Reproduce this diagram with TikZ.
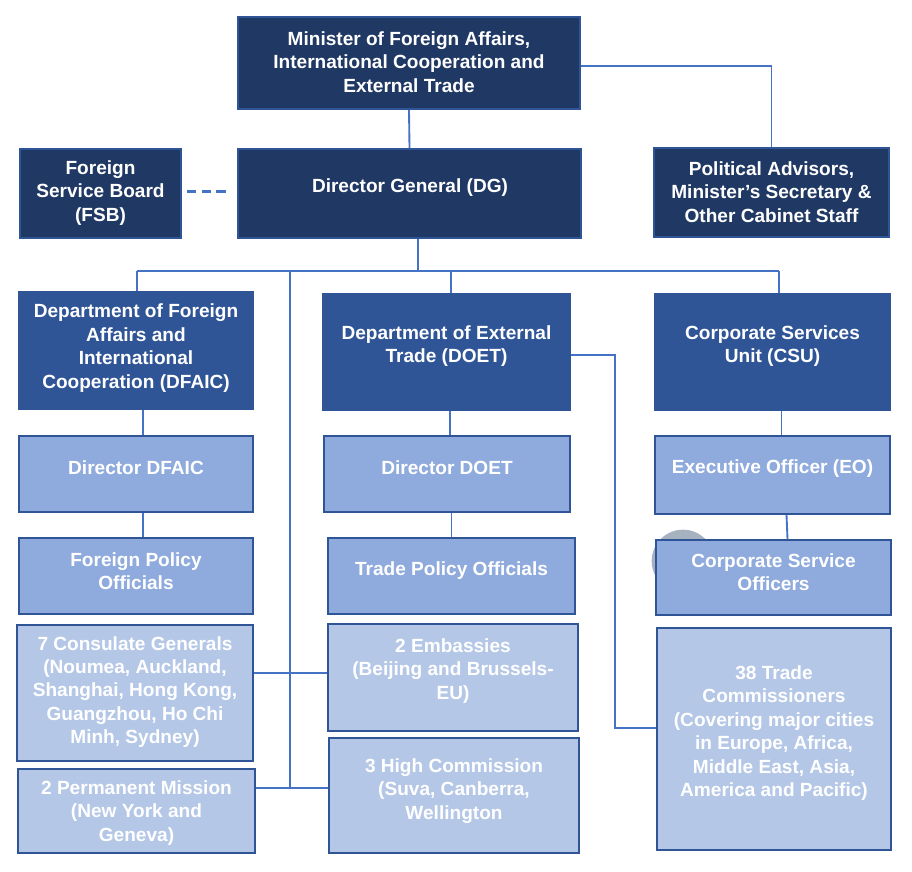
\documentclass[tikz,border=0pt]{standalone}
\usepackage{fontspec}
\setmainfont{Liberation Sans}
\usetikzlibrary{fit,calc}
\definecolor{cdark}{HTML}{203864}
\definecolor{cmed}{HTML}{2F5597}
\definecolor{clight}{HTML}{8FAADC}
\definecolor{cpale}{HTML}{B4C7E7}
\definecolor{cline}{HTML}{4472C4}
\definecolor{cgrey}{HTML}{A7B2C0}
\begin{document}
\begin{tikzpicture}[x=0.75pt,y=-0.75pt,
  boxbase/.style={inner sep=0pt, line width=1.3pt, draw=cmed},
  darkbox/.style={boxbase, fill=cdark},
  medbox/.style={boxbase, fill=cmed},
  lightbox/.style={boxbase, fill=clight},
  palebox/.style={boxbase, fill=cpale},
  txt/.style={text=white, font=\fontsize{14.3}{17.6}\selectfont\bfseries, align=center, inner sep=0pt, yshift=-1.5pt},
  conn/.style={draw=cline, line width=1.4pt}]
\useasboundingbox (0,0) rectangle (912,871);

% connector points
\coordinate (bus) at (418,271);
\coordinate (bl) at (137,271);
\coordinate (br) at (779,271);
\coordinate (bm) at (451,271);
\coordinate (lv) at (290,271);
\coordinate (lvc) at (290,673);
\coordinate (lvb) at (290,788);
\coordinate (tk) at (615,355);
\coordinate (tcy) at (615,728);
\coordinate (mp) at (580,66);

% grey circle
\fill[cgrey] (683,561) circle (23.5pt);

% boxes
\node[darkbox, fit={(238,17) (580,109)}] (min) {};
\node[darkbox, fit={(20,149) (181,238)}] (fsb) {};
\node[darkbox, fit={(238,149) (581,238)}] (dg) {};
\node[darkbox, fit={(654,148) (889,237)}] (pol) {};
\node[medbox, fit={(19,292) (253,409)}] (dfaic) {};
\node[medbox, fit={(323,294) (570,410)}] (doet) {};
\node[medbox, fit={(655,294) (890,410)}] (csu) {};
\node[lightbox, fit={(19,436) (253,512)}] (ddfaic) {};
\node[lightbox, fit={(324,436) (570,512)}] (ddoet) {};
\node[lightbox, fit={(655,436) (890,514)}] (eo) {};
\node[lightbox, fit={(19,538) (253,614)}] (fpo) {};
\node[lightbox, fit={(328,538) (575,614)}] (tpo) {};
\node[lightbox, fit={(656,540) (891,615)}] (cso) {};
\node[palebox, fit={(17,625) (253,761)}] (cons) {};
\node[palebox, fit={(328,624) (578,731)}] (emb) {};
\node[palebox, fit={(329,738) (579,853)}] (hc) {};
\node[palebox, fit={(18,769) (255,853)}] (pm) {};
\node[palebox, fit={(657,628) (891,850)}] (tc) {};

% connectors
\draw[conn] (min.south) -- (dg.north);
\draw[conn] (min.east |- mp) -| (pol.north);
\draw[conn, line width=1.8pt, dash pattern=on 7pt off 4pt] ($(fsb.east)+(5,-2)$) -- ($(dg.west)+(-8,-2)$);
\draw[conn] (dg.south -| bus) -- (bus);
\draw[conn] (bl) -- (br);
\draw[conn] (bl) -- (bl |- dfaic.north);
\draw[conn] (bm) -- (bm |- doet.north);
\draw[conn] (br) -- (br |- csu.north);
\draw[conn] (lv) -- (lvb);
\draw[conn] (cons.east |- lvc) -- (emb.west |- lvc);
\draw[conn] (pm.east |- lvb) -- (hc.west |- lvb);
\draw[conn] (doet.east |- tk) -| (tcy) -- (tc.west |- tcy);
\draw[conn] ($(dfaic.south)+(7,0)$) -- ($(ddfaic.north)+(7,0)$);
\draw[conn] ($(ddfaic.south)+(7,0)$) -- ($(fpo.north)+(7,0)$);
\draw[conn] ($(doet.south)+(3.5,0)$) -- ($(ddoet.north)+(3,0)$);
\draw[conn] (tpo.north) -- (tpo.north |- ddoet.south);
\draw[conn] ($(csu.south)+(9,0)$) -- ($(eo.north)+(9,0)$);
\draw[conn] ($(eo.south)+(14,0)$) -- ($(cso.north)+(14,0)$);

% texts
\node[txt] (min-t) at (409,60) {Minister of Foreign Affairs,\\International Cooperation and\\External Trade};
\node[txt] (fsb-t) at (100.5,191) {Foreign\\Service Board\\(FSB)};
\node[txt] (dg-t) at (410,186) {Director General (DG)};
\node[txt] (pol-t) at (771.5,190) {Political Advisors,\\Minister’s Secretary \&\\Other Cabinet Staff};
\node[txt] (dfaic-t) at (136,346) {Department of Foreign\\Affairs and\\International\\Cooperation (DFAIC)};
\node[txt] (doet-t) at (446.5,344) {Department of External\\Trade (DOET)};
\node[txt] (csu-t) at (772.5,344) {Corporate Services\\Unit (CSU)};
\node[txt] (ddfaic-t) at (136,466) {Director DFAIC};
\node[txt] (ddoet-t) at (447,466) {Director DOET};
\node[txt] (eo-t) at (772.5,467) {Executive Officer (EO)};
\node[txt] (fpo-t) at (136,569) {Foreign Policy\\Officials};
\node[txt] (tpo-t) at (451.5,569) {Trade Policy Officials};
\node[txt] (cso-t) at (773.5,570) {Corporate Service\\Officers};
\node[txt] (cons-t) at (135,690) {7 Consulate Generals\\(Noumea, Auckland,\\Shanghai, Hong Kong,\\Guangzhou, Ho Chi\\Minh, Sydney)};
\node[txt] (emb-t) at (453,669) {2 Embassies\\(Beijing and Brussels-\\EU)};
\node[txt] (hc-t) at (454,789) {3 High Commission\\(Suva, Canberra,\\Wellington};
\node[txt] (pm-t) at (136.5,811) {2 Permanent Mission\\(New York and\\Geneva)};
\node[txt] (tc-t) at (774,731) {38 Trade\\Commissioners\\(Covering major cities\\in Europe, Africa,\\Middle East, Asia,\\America and Pacific)};
\end{tikzpicture}
\end{document}
